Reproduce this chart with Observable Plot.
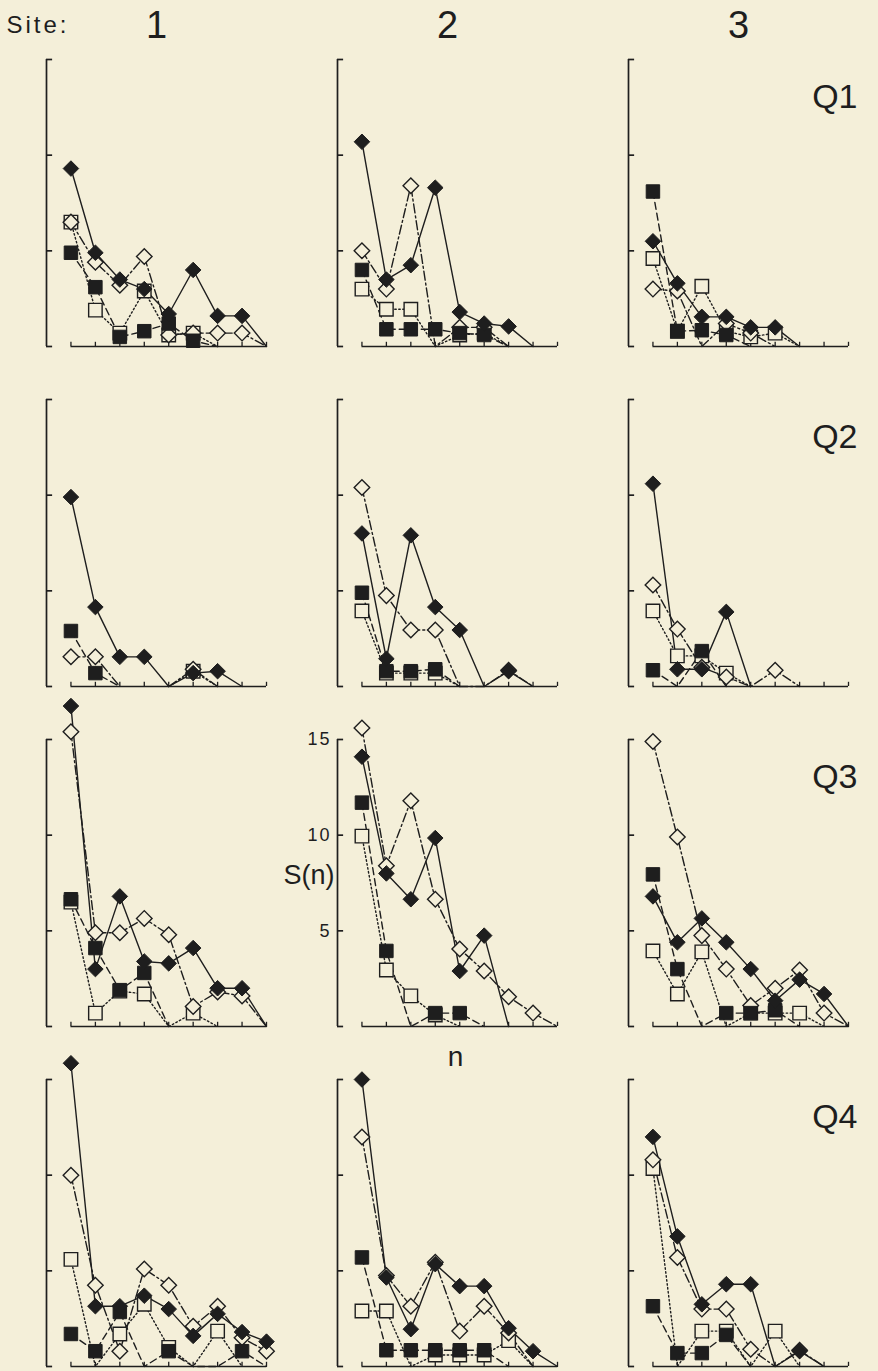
<!DOCTYPE html>
<html><head><meta charset="utf-8">
<script src="https://cdn.jsdelivr.net/npm/d3@7"></script>
<script src="https://cdn.jsdelivr.net/npm/@observablehq/plot@0.6"></script>
<style>
html,body{margin:0;padding:0;background:#f4efd9;}
#chart svg{display:block;}
</style></head><body><div id="chart"></div>
<script>
const sites = [1, 2, 3];
const quarters = ["Q1", "Q2", "Q3", "Q4"];
const nValues = [1, 2, 3, 4, 5, 6, 7, 8, 9];
const yTicks = [5, 10, 15];
const yBracket = [0, 5, 10, 15];

// Each array: 12 panels, order Q1 site1, Q1 site2, Q1 site3, Q2 site1, ... ; values for n = 1..9
const filledDiamond = [
  [9.3, 4.9, 3.5, 3.0, 1.7, 4.0, 1.6, 1.6, 0],
  [10.7, 3.5, 4.25, 8.3, 1.8, 1.2, 1.05, 0, null],
  [5.5, 3.3, 1.55, 1.55, 1.0, 1.0, 0, null, null],
  [9.9, 4.15, 1.55, 1.55, 0, 0.7, 0.8, 0, null],
  [8.0, 1.45, 7.9, 4.15, 2.95, 0, 0.8, 0, null],
  [10.6, 0.9, 0.9, 3.9, 0, null, null, null, null],
  [16.75, 3.0, 6.8, 3.4, 3.3, 4.1, 2.0, 2.0, 0],
  [14.1, 8.0, 6.65, 9.85, 2.9, 4.75, 0, null, null],
  [6.8, 4.4, 5.65, 4.4, 3.0, 1.35, 2.45, 1.7, 0],
  [15.85, 3.15, 3.15, 3.7, 3.0, 1.6, 2.75, 1.8, 1.3],
  [15.0, 4.65, 1.95, 5.35, 4.2, 4.2, 2.0, 0.8, 0],
  [12.0, 6.8, 3.25, 4.3, 4.3, 0, 0.8, 0, null]
];
const openDiamond = [
  [6.5, 4.4, 3.2, 4.7, 0.6, 0.7, 0.7, 0.7, 0],
  [5.0, 3.0, 8.4, 0, 1.0, 1.0, 0, null, null],
  [3.0, 2.9, 0, 1.2, 0.7, 0, null, null, null],
  [1.55, 1.55, 0, null, 0, 0.9, 0, null, null],
  [10.4, 4.75, 2.95, 2.95, 0, 0, 0.85, 0, null],
  [5.3, 3.0, 1.0, 0.5, 0, 0.85, 0, null, null],
  [15.4, 4.9, 4.9, 5.65, 4.8, 1.05, 1.8, 1.6, 0],
  [15.6, 8.4, 11.8, 6.65, 4.05, 2.9, 1.55, 0.7, 0],
  [14.9, 9.9, 4.75, 3.0, 1.1, 2.0, 2.95, 0.7, 0],
  [10.0, 4.25, 0.8, 5.1, 4.25, 2.1, 3.15, 1.5, 0.8],
  [12.0, 4.75, 3.15, 5.45, 1.85, 3.15, 1.75, 0, null],
  [10.8, 5.7, 3.0, 3.0, 0.9, 0, 0.85, 0, null]
];
const filledSquare = [
  [4.9, 3.1, 0.5, 0.8, 1.2, 0.3, 0, null, null],
  [4.0, 0.9, 0.9, 0.9, 0.7, 0.6, 0, null, null],
  [8.1, 0.8, 0.85, 0.6, 0, null, null, null, null],
  [2.9, 0.7, 0, null, null, null, null, null, null],
  [4.9, 0.8, 0.8, 0.9, 0, null, null, null, null],
  [0.85, 0, 1.85, 0, null, null, null, null, null],
  [6.65, 4.1, 1.9, 2.8, 0, null, null, null, null],
  [11.7, 3.95, 0, 0.7, 0.7, 0, null, null, null],
  [7.95, 3.0, 0, 0.7, 0.7, 0.85, 0, null, null],
  [1.7, 0.8, 2.85, 0, 0.8, 0, 0, 0.8, 0],
  [5.7, 0.85, 0.85, 0.85, 0.85, 0.85, 0, null, null],
  [3.15, 0.7, 0.7, 1.65, 0, null, null, null, null]
];
const openSquare = [
  [6.5, 1.9, 0.7, 2.9, 0.6, 0.7, 0, null, null],
  [3.0, 1.95, 1.95, 0, 0.6, 0.7, 0, null, null],
  [4.6, 0.8, 3.15, 0.8, 0.5, 0.7, 0, null, null],
  [null, null, null, null, 0, 0.8, 0, null, null],
  [3.95, 0.7, 0.7, 0.7, 0, null, null, null, null],
  [3.95, 1.6, 1.6, 0.7, 0, null, null, null, null],
  [6.5, 0.7, 1.85, 1.7, 0, 0.7, 0, null, null],
  [9.95, 2.95, 1.6, 0.6, 0, null, null, null, null],
  [3.95, 1.7, 3.9, 0, 0.7, 0.7, 0.7, 0, null],
  [5.6, 0, 1.7, 3.25, 1.0, 0, 1.85, 0, null],
  [2.9, 2.9, 0, 0.6, 0.6, 0.6, 1.35, 0, null],
  [10.35, 0, 1.85, 1.85, 0, 1.85, 0, null, null]
];

const ink = "#1e1e1e";
const paper = "#f4efd9";

function toRows(table) {
  const out = [];
  table.forEach((vals, p) => {
    const q = quarters[Math.floor(p / 3)];
    const site = sites[p % 3];
    vals.forEach((v, i) => out.push({site, q, n: nValues[i], v: v == null ? NaN : v}));
  });
  return out;
}
const rowsA = toRows(filledDiamond);
const rowsB = toRows(openDiamond);
const rowsC = toRows(filledSquare);
const rowsD = toRows(openSquare);

const lineOpts = {x: "n", y: "v", fx: "site", fy: "q", stroke: ink, strokeWidth: 1.4};
const pos = d => d.v > 0;

const chart = Plot.plot({
  width: 878,
  height: 1371,
  marginTop: 57,
  marginBottom: 3,
  marginLeft: 45,
  marginRight: 30,
  x: {domain: [0, 9], axis: null},
  y: {domain: [0, 15], axis: null},
  fx: {domain: sites, axis: null, paddingInner: 0.245, paddingOuter: 0},
  fy: {domain: quarters, axis: null, paddingInner: 0.155, paddingOuter: 0},
  style: {background: paper, color: ink, fontFamily: "'Liberation Sans', Arial, sans-serif"},
  marks: [
    // axes (bracket-style y axis, ticked x axis) repeated in each panel
    Plot.ruleX([0], {y1: 0, y2: 15, stroke: ink, strokeWidth: 1.7}),
    Plot.ruleY(yBracket, {x1: 0, x2: 0.25, stroke: ink, strokeWidth: 1.7}),
    Plot.ruleY([0], {x1: 1, x2: 9, stroke: ink, strokeWidth: 1.7}),
    Plot.ruleX(nValues, {y1: 0, y2: 0.22, stroke: ink, strokeWidth: 1.3}),
    // lines
    Plot.line(rowsD, {...lineOpts, strokeDasharray: "1.5,2.5"}),
    Plot.line(rowsC, {...lineOpts, strokeDasharray: "7,4"}),
    Plot.line(rowsB, {...lineOpts, strokeDasharray: "9,3,2,3"}),
    Plot.line(rowsA, {...lineOpts}),
    // markers
    Plot.dot(rowsD, {filter: pos, x: "n", y: "v", fx: "site", fy: "q", symbol: "square", r: 7.6, fill: paper, stroke: ink, strokeWidth: 1.4}),
    Plot.dot(rowsB, {filter: pos, x: "n", y: "v", fx: "site", fy: "q", symbol: "diamond2", r: 7, fill: paper, stroke: ink, strokeWidth: 1.4}),
    Plot.dot(rowsC, {filter: pos, x: "n", y: "v", fx: "site", fy: "q", symbol: "square", r: 7.6, fill: ink, stroke: ink, strokeWidth: 1}),
    Plot.dot(rowsA, {filter: pos, x: "n", y: "v", fx: "site", fy: "q", symbol: "diamond2", r: 7, fill: ink, stroke: ink, strokeWidth: 1}),
    // header texts
    Plot.text(["Site:"], {fx: () => sites[0], fy: () => quarters[0], text: d => d, frameAnchor: "top-left", textAnchor: "start", lineAnchor: "middle", dx: -40, dy: -34, fontSize: 24}),
    Plot.text(sites, {fx: d => d, fy: () => quarters[0], text: d => String(d), frameAnchor: "top", lineAnchor: "middle", dy: -34, fontSize: 38}),
    Plot.text(quarters, {fx: () => sites[2], fy: d => d, text: d => d, frameAnchor: "top-right", textAnchor: "end", lineAnchor: "middle", dx: 9, dy: 38, fontSize: 34}),
    // axis labels in the Q3 / site 2 panel
    Plot.text(yTicks, {fx: () => sites[1], fy: () => quarters[2], x: 0, y: d => d, text: d => String(d), textAnchor: "end", dx: -6, fontSize: 18}),
    Plot.text(["S(n)"], {fx: () => sites[1], fy: () => quarters[2], text: d => d, frameAnchor: "left", textAnchor: "end", dx: -3, dy: -8, fontSize: 27}),
    Plot.text(["n"], {fx: () => sites[1], fy: () => quarters[3], text: d => d, frameAnchor: "top", lineAnchor: "middle", dx: 8, dy: -22, fontSize: 28})
  ]
});
document.getElementById("chart").appendChild(chart);
d3.select(chart).selectAll("text").filter(function () { return this.textContent === "Site:"; }).attr("letter-spacing", "3px");
d3.select(chart).selectAll("text").filter(function () { return /^(5|10|15)$/.test(this.textContent); }).attr("letter-spacing", "2px");
</script>
</body></html>
